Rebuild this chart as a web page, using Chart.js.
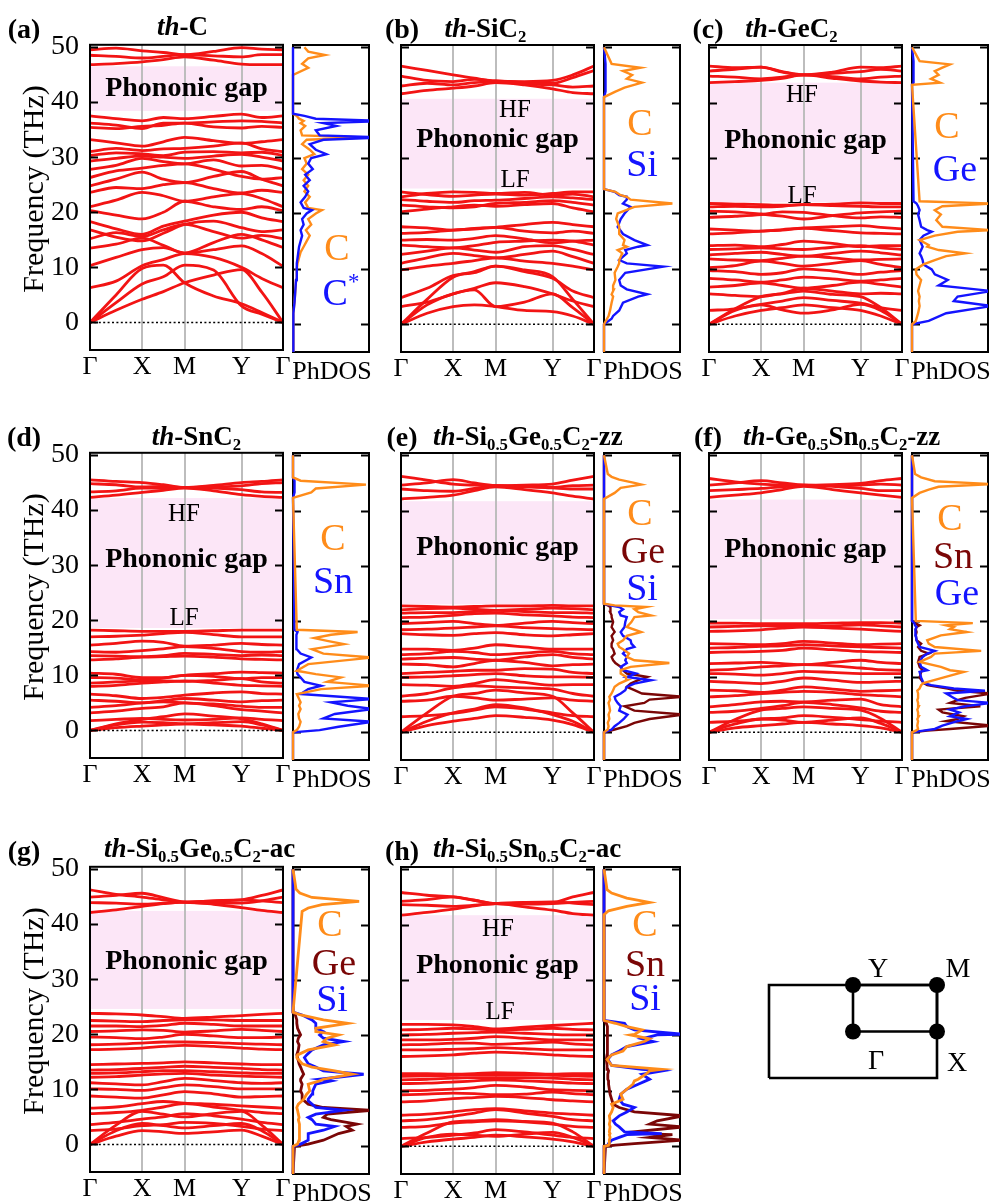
<!DOCTYPE html>
<html>
<head>
<meta charset="utf-8">
<script src="https://cdn.jsdelivr.net/npm/chart.js@4.4.0/dist/chart.umd.min.js"></script>
<style>
  body { margin: 0; background: #fff; }
  #fig { position: relative; width: 993px; height: 1202px; overflow: hidden; font-family: "Liberation Serif", "Times New Roman", serif; }
  canvas { position: absolute; }
  .t { position: absolute; white-space: nowrap; transform: translate(-50%, -50%); line-height: 1; color: #000; }
  .tl { position: absolute; white-space: nowrap; transform: translate(0, -50%); line-height: 1; color: #000; }
  .lab { font-weight: bold; font-size: 28px; }
  .ttl { font-weight: bold; font-size: 27px; }
  .gap { font-weight: bold; font-size: 28px; }
  .hf { font-size: 25px; }
  .sp { font-size: 38px; }
  .tick { font-size: 26px; }
  .bz { font-size: 28px; }
  .ylab { font-size: 30px; transform: translate(-50%, -50%) rotate(-90deg); }
  sub { font-size: 0.62em; vertical-align: -0.32em; line-height: 0; }
  sup { font-size: 0.6em; vertical-align: 0.7em; line-height: 0; }
</style>
</head>
<body>
<div id="fig"></div>
<script>
// ==================== 数据 ====================

// 高对称点路径 Γ-X-M-Y-Γ（归一化路径长度）
const K_SYM = [0, 0.27, 0.49, 0.785, 1];
const SYM_LABELS = ['Γ', 'X', 'M', 'Y', 'Γ'];
// 每条能带取值的 k 点（Γ, 中点, X, 中点, M, 中点, Y, 中点, Γ）
const K_PATH = [0, 0.135, 0.27, 0.38, 0.49, 0.64, 0.785, 0.89, 1];
const FREQ_TICKS = [0, 10, 20, 30, 40, 50];

// (a) th-C
const BANDS_A = [
  [0, 2.2, 4.2, 5.6, 7.2, 8.6, 9.6, 5.5, 0],
  [0, 5, 9.8, 10.4, 7.2, 4.8, 3.4, 1.8, 0],
  [0, 3.6, 7, 8.3, 10.4, 9.5, 3, 1.5, 0],
  [6.3, 7.5, 10.3, 11.4, 12.5, 11.8, 10, 8, 6.3],
  [10.3, 11.8, 13.2, 13.6, 12.6, 13.2, 13.9, 12.5, 10.2],
  [13.5, 14.2, 15.3, 14, 12.6, 14.5, 16, 15, 13.6],
  [15.2, 16.3, 15.6, 16.8, 17.8, 16.5, 15.3, 15.8, 15.2],
  [16.8, 15.5, 14.8, 16.2, 17.8, 18.4, 17.2, 16.5, 16.8],
  [18.3, 17, 16, 17.5, 18.4, 19.5, 20, 19, 18.3],
  [20.3, 19.5, 18.8, 20, 22, 21, 20.5, 21, 20.3],
  [21, 22.2, 23.6, 23, 22, 22.8, 23.4, 22.5, 21],
  [23.6, 24.5, 24.3, 25, 25.4, 24.3, 23.5, 24, 23.6],
  [24.8, 26, 27.3, 26, 25.4, 26.5, 27.4, 26, 24.8],
  [26.3, 27.5, 28, 28.5, 28.8, 27.8, 26.5, 26, 26.3],
  [27.8, 28.5, 29.8, 29.2, 28.8, 29.5, 28.4, 28.5, 27.8],
  [29.3, 29.8, 30.2, 30, 29.8, 30.2, 30.5, 30, 29.3],
  [30.3, 30.8, 30.6, 30.3, 30.9, 31, 30.8, 30.9, 30.3],
  [31, 31.6, 31.2, 31.5, 31.6, 32, 32.6, 31.5, 31],
  [33.2, 32.6, 32, 32.8, 33.6, 33, 32.5, 32.8, 33.2],
  [35.4, 35.2, 35.6, 35.8, 36.2, 35.5, 35.3, 35.6, 35.4],
  [36.2, 35.8, 35.2, 36.2, 36.2, 36.4, 36.6, 36.5, 36.2],
  [37.5, 37, 36.6, 37.2, 37, 37.4, 37.8, 37.2, 37.5],
  [46.8, 47, 47.3, 47.7, 48.2, 47.6, 46.9, 46.8, 46.8],
  [48.5, 48.3, 48, 48.3, 48.6, 48.4, 48.2, 48.6, 48.6],
  [49.5, 49.8, 49.3, 49, 48.6, 49.2, 49.9, 49.6, 49.5]
];
const GAP_A = [38.4, 46.5];

// (b) th-SiC2
const BANDS_B = [
  [0, 3.5, 5.5, 6.2, 3.2, 4, 5.5, 3, 0],
  [0, 2, 3.2, 3.5, 3.2, 2.5, 2.3, 1.5, 0],
  [0, 4.5, 8.5, 9.5, 10.5, 9.8, 8.6, 4.5, 0],
  [3.2, 4, 5.5, 6.5, 7.5, 6.8, 5.5, 4.2, 3.2],
  [4.8, 6.5, 8.8, 9.3, 10.5, 9.5, 8.3, 6, 4.8],
  [9.8, 10.5, 11, 11.5, 12, 11.4, 11, 10.5, 9.8],
  [11, 12, 12.8, 12.4, 12, 12.6, 13.2, 12.2, 11],
  [12.6, 13.2, 13.8, 13.4, 13, 14, 14.2, 13.5, 12.6],
  [14.3, 14, 13.8, 14.2, 14.8, 15, 15.2, 15, 14.3],
  [15.2, 15.3, 15.2, 15.5, 16, 15.4, 14.7, 15, 15.2],
  [16.4, 16.6, 17, 17.2, 17.5, 16.8, 16.5, 16.8, 16.4],
  [17.6, 17.4, 17, 17.3, 17.5, 18, 18.4, 18, 17.6],
  [20.3, 20.8, 21.2, 21.5, 21.3, 21.6, 21.8, 21, 20.3],
  [21.5, 21.2, 21, 21.2, 21.8, 22, 22.3, 22, 21.5],
  [22.5, 22.2, 22, 22.3, 22.4, 22.7, 23, 22.8, 22.5],
  [23.9, 23.4, 23.1, 23.3, 23.5, 23.3, 23.6, 23.9, 23.9],
  [23, 23.6, 23.9, 23.8, 23.6, 23.8, 23.3, 23.5, 23],
  [46.6, 45.8, 45, 44.4, 43.9, 43.8, 44, 45, 46.6],
  [44.8, 44, 43.8, 44.2, 43.9, 43.6, 43.5, 44.5, 45.8],
  [43, 43.5, 43.2, 43.6, 43.8, 43.4, 43.2, 42.8, 43],
  [41.6, 42.2, 42.6, 43, 43.6, 43.2, 42.5, 41.8, 41.6]
];
const GAP_B = [24.5, 40.7];

// (c) th-GeC2
const BANDS_C = [
  [0, 1.5, 2.5, 3, 3.5, 3, 2.5, 1.5, 0],
  [0, 2.5, 3.5, 2.6, 2, 2.6, 3.6, 2.5, 0],
  [0, 2.8, 5, 5.5, 6, 5.4, 5, 3, 0],
  [2.5, 2.8, 3.6, 4.2, 4.8, 4.3, 3.8, 3, 2.5],
  [5.5, 5.2, 5, 5.6, 6.5, 6, 5.5, 5.6, 5.5],
  [6.7, 7, 7.5, 7, 6.5, 7, 7.6, 7.2, 6.7],
  [8.3, 8, 7.6, 8, 8.5, 8.2, 7.8, 8, 8.3],
  [9.7, 9.5, 9, 9.3, 10, 9.6, 9, 9.4, 9.7],
  [10.2, 10.6, 11.4, 11, 10.5, 11, 11.5, 10.8, 10.2],
  [11.8, 11.6, 11.5, 11.9, 12.3, 12, 11.6, 11.7, 11.8],
  [12.5, 12.8, 13, 12.6, 12.3, 12.8, 13.2, 12.9, 12.5],
  [13.5, 13.6, 13.8, 13.6, 13.5, 13.9, 14.2, 13.8, 13.5],
  [14.2, 14.3, 14, 14.4, 15, 14.6, 14, 14.2, 14.2],
  [16.3, 16.5, 16.8, 17, 17.3, 16.9, 16.5, 16.4, 16.3],
  [17.2, 17, 16.8, 17.1, 17.4, 17.6, 17.8, 17.5, 17.2],
  [19.3, 19.5, 19.8, 20.3, 20.2, 19.6, 19.2, 19.4, 19.3],
  [20.4, 20.3, 19.9, 19.5, 19, 19.6, 20.1, 20.3, 20.4],
  [21.2, 21.3, 21.2, 21.3, 21.6, 21.4, 21.3, 21.2, 21.2],
  [21.8, 21.7, 21.6, 21.5, 21.6, 21.7, 21.9, 21.8, 21.8],
  [46.6, 46.3, 46.4, 45.5, 45, 45.5, 46.4, 46.3, 46.6],
  [45.7, 46, 46.4, 45.6, 45, 45.3, 45.6, 46, 45.7],
  [44.8, 44.6, 44.3, 44.6, 45, 44.7, 44.3, 44.6, 44.8],
  [43.6, 43.8, 44, 44.4, 45, 44.4, 43.9, 43.7, 43.6]
];
const GAP_C = [22.0, 43.6];

// (d) th-SnC2
const BANDS_D = [
  [0, 0.5, 0.8, 1, 1.2, 1, 0.8, 0.4, 0],
  [0, 1, 1.5, 1.4, 1.2, 1.4, 1.6, 1, 0],
  [0, 1.2, 2, 2.5, 3, 2.6, 2.1, 1.2, 0],
  [1.8, 2, 2.2, 2, 1.9, 2, 2.3, 2, 1.8],
  [3.2, 3.5, 4, 4.3, 5, 4.5, 3.8, 3.5, 3.2],
  [4.2, 4.5, 5, 5.2, 5, 4.8, 4.4, 4.2, 4.2],
  [5.5, 5.3, 5, 5.4, 5.8, 5.5, 5.2, 5.4, 5.5],
  [6.6, 6.3, 5.8, 6, 6.4, 6.8, 7, 6.7, 6.6],
  [8, 8.2, 8.6, 8.8, 9, 8.6, 8.2, 8.1, 8],
  [8.6, 8.8, 9, 9, 8.9, 9.1, 9.4, 8.8, 8.6],
  [9.6, 9.5, 9.2, 9.5, 10, 9.8, 9.4, 9.6, 9.6],
  [10.4, 10.2, 9.6, 9.6, 10, 10.3, 10.6, 10.5, 10.4],
  [12.8, 13, 13.3, 13.4, 13.5, 13.3, 13, 12.9, 12.8],
  [13.6, 13.5, 13.4, 13.6, 14, 13.8, 13.6, 13.7, 13.6],
  [14.3, 14.2, 14.5, 14.8, 15.2, 14.9, 14.3, 14.2, 14.3],
  [15.5, 15.8, 16.2, 16, 15.3, 15.5, 15.8, 15.6, 15.5],
  [17, 17.1, 17.3, 17.6, 17.8, 17.4, 17, 17, 17],
  [18.2, 18.1, 18, 18, 18, 18.1, 18.2, 18.2, 18.2],
  [45.5, 45.2, 45, 44.6, 44.1, 44.5, 45, 45.2, 45.5],
  [44.8, 44.6, 44.2, 44.3, 44.1, 44.2, 44.4, 44.8, 45],
  [43.3, 43.5, 44, 44, 44.1, 44, 43.7, 43.3, 43.2],
  [42.3, 42.7, 43.2, 43.6, 44, 43.5, 42.8, 42.5, 42.3]
];
const GAP_D = [18.6, 42.2];

// (e) th-Si0.5Ge0.5C2-zz
const BANDS_E = [
  [0, 2, 3.5, 4.2, 5, 4.4, 3.2, 2, 0],
  [0, 1.2, 2, 2.5, 3, 2.7, 2.2, 1.4, 0],
  [0, 3.5, 6.5, 7, 7.6, 7.1, 6.5, 3.5, 0],
  [2.8, 3, 3.4, 4, 4.6, 4.2, 3.5, 3, 2.8],
  [5.6, 5.8, 6.5, 6.2, 5.8, 6, 6.2, 5.8, 5.6],
  [6.5, 7, 8, 8.4, 8.2, 8, 7.8, 7, 6.5],
  [8.6, 8.5, 8.3, 8.8, 9.5, 9, 8.5, 8.6, 8.6],
  [9.9, 10, 10.2, 10.4, 10.6, 10.2, 10, 10, 9.9],
  [10.6, 10.8, 11, 11.2, 11.2, 11.5, 11.4, 10.8, 10.6],
  [12.3, 12.2, 11.8, 12.4, 13, 12.6, 12, 12.2, 12.3],
  [13.2, 13.4, 13.5, 13.2, 13, 13.6, 14, 13.5, 13.2],
  [14, 14.2, 14.6, 14.4, 14, 14.3, 14.6, 14.2, 14],
  [15, 15, 14.8, 15.2, 15.8, 15.4, 15, 15, 15],
  [17.8, 17.6, 17.5, 17.8, 18, 17.6, 17.4, 17.6, 17.8],
  [18.5, 18.6, 18.8, 19, 19.2, 18.9, 18.7, 18.6, 18.5],
  [19.6, 19.8, 20, 19.6, 19.3, 19.7, 20, 19.8, 19.6],
  [20.7, 20.8, 21.1, 21.4, 21.5, 21.2, 21, 20.8, 20.7],
  [21.5, 21.6, 21.6, 21.8, 22, 21.8, 21.6, 21.6, 21.5],
  [22.1, 22.3, 22.4, 22.2, 22, 22.2, 22.4, 22.3, 22.1],
  [22.8, 22.7, 22.6, 22.7, 22.8, 22.8, 22.9, 22.8, 22.8],
  [46.2, 45.5, 44.8, 44.6, 44.5, 44.6, 44.8, 45.5, 46.2],
  [44.6, 45, 45.6, 45, 44.5, 44.3, 44.2, 44.5, 44.6],
  [43.9, 43.6, 43.5, 44, 44.5, 44.4, 44.1, 43.9, 43.9],
  [42.1, 42.4, 42.8, 43.6, 44.3, 43.8, 43.2, 42.6, 42.1]
];
const GAP_E = [23.1, 41.7];

// (f) th-Ge0.5Sn0.5C2-zz
const BANDS_F = [
  [0, 0.8, 1.2, 1.5, 1.8, 1.5, 1.2, 0.8, 0],
  [0, 1.5, 2.4, 2.2, 1.8, 2.2, 2.6, 1.6, 0],
  [0, 2.3, 4, 4.3, 4.6, 4.3, 4, 2.5, 0],
  [1.8, 2, 2.4, 2.6, 3, 2.7, 2.3, 2, 1.8],
  [3.6, 3.8, 4.3, 4.8, 5.4, 5, 4.4, 3.8, 3.6],
  [4.6, 5, 5.5, 5.6, 5.5, 5.8, 6, 5, 4.6],
  [6.4, 6.6, 7, 7.2, 7.4, 7.2, 6.8, 6.6, 6.4],
  [7.6, 7.5, 7.2, 7.6, 8.2, 7.8, 7.4, 7.5, 7.6],
  [9.2, 9, 8.8, 9.2, 9.8, 9.4, 9, 9.1, 9.2],
  [10.6, 10.5, 10.3, 10.6, 11, 10.8, 10.6, 10.6, 10.6],
  [11.2, 11.4, 11.8, 12, 12.2, 12, 11.6, 11.3, 11.2],
  [12.4, 12.5, 12.6, 12.4, 12.2, 12.6, 13, 12.6, 12.4],
  [14.4, 14.5, 14.6, 14.8, 15.2, 14.9, 14.6, 14.5, 14.4],
  [15.2, 15.3, 15.5, 15.6, 15.8, 15.6, 15.4, 15.3, 15.2],
  [16, 15.9, 15.8, 16, 16.4, 16.1, 15.8, 15.9, 16],
  [18.2, 18.3, 18.5, 18.8, 19, 18.8, 18.6, 18.4, 18.2],
  [19, 19.1, 19.2, 19.2, 19.1, 19.2, 19.4, 19.2, 19],
  [19.7, 19.7, 19.6, 19.6, 19.6, 19.7, 19.8, 19.8, 19.7],
  [45.8, 45.2, 44.8, 44.6, 44.6, 44.7, 44.9, 45.4, 45.8],
  [44.6, 45, 45.4, 45, 44.6, 44.5, 44.6, 44.8, 44.6],
  [43.6, 43.8, 44, 44.3, 44.6, 44.4, 44, 43.6, 43.6],
  [42.4, 42.8, 43.2, 43.8, 44.4, 43.8, 43.2, 42.8, 42.4]
];
const GAP_F = [20.4, 42.0];

// (g) th-Si0.5Ge0.5C2-ac
const BANDS_G = [
  [0, 1.5, 2.5, 2.3, 2, 2.3, 2.6, 1.5, 0],
  [0, 2.5, 3.8, 3.4, 3, 3.4, 3.8, 2.5, 0],
  [0, 3.5, 6, 5.5, 5, 5.6, 6, 3.5, 0],
  [2.5, 2.8, 3.4, 3.6, 4, 3.8, 3.3, 2.8, 2.5],
  [3.6, 4, 4.6, 5, 5.6, 5.2, 4.6, 4, 3.6],
  [5.6, 5.8, 6.2, 6.8, 7.4, 6.8, 6.2, 5.8, 5.6],
  [6.6, 6.8, 7.4, 7.8, 7.5, 7.3, 7, 6.8, 6.6],
  [8.8, 8.6, 8.4, 9, 9.6, 9.2, 8.6, 8.7, 8.8],
  [10.1, 10, 9.8, 10.3, 10.8, 10.5, 10.1, 10.1, 10.1],
  [11.2, 11, 10.8, 11.4, 12, 11.6, 11.2, 11.1, 11.2],
  [12.2, 12.3, 12.6, 12.8, 12.9, 12.6, 12.4, 12.3, 12.2],
  [12.9, 13, 13.2, 13.4, 13.4, 13.2, 13, 12.9, 12.9],
  [13.5, 13.6, 13.8, 14, 14.2, 14, 13.8, 13.6, 13.5],
  [14.5, 14.6, 14.7, 14.8, 15, 14.8, 14.6, 14.5, 14.5],
  [17.2, 17.3, 17.5, 17.8, 18, 17.8, 17.5, 17.3, 17.2],
  [18.1, 18.2, 18.4, 18.6, 18.6, 18.5, 18.3, 18.2, 18.1],
  [19.5, 19.4, 19.2, 19.5, 20, 19.7, 19.4, 19.4, 19.5],
  [20.5, 20.6, 20.8, 20.7, 20.4, 20.6, 20.9, 20.7, 20.5],
  [21.5, 21.5, 21.4, 21.6, 22, 21.8, 21.5, 21.5, 21.5],
  [22.5, 22.4, 22.3, 22.5, 22.6, 22.6, 22.5, 22.5, 22.5],
  [23.8, 23.7, 23.5, 23.2, 22.9, 23.1, 23.4, 23.6, 23.8],
  [46.2, 45.4, 44.9, 44.4, 44, 44.2, 44.4, 45.2, 46.2],
  [44.9, 45.2, 45.6, 44.8, 44, 43.8, 43.8, 44.2, 44.9],
  [43.9, 43.8, 43.6, 43.8, 44, 44.2, 44.4, 44.2, 43.9],
  [42.1, 42.6, 43.2, 43.7, 44, 43.6, 43, 42.5, 42.1]
];
const GAP_G = [24.6, 42.4];

// (h) th-Si0.5Sn0.5C2-ac
const BANDS_H = [
  [0, 0.8, 1.3, 1.6, 2, 1.7, 1.3, 0.8, 0],
  [0, 1.6, 2.2, 2, 1.8, 2.2, 2.5, 1.6, 0],
  [0, 2.4, 4.4, 4.6, 4.8, 4.5, 4.2, 2.6, 0],
  [1.4, 1.6, 2, 2.4, 3, 2.6, 2, 1.6, 1.4],
  [3.4, 3.6, 4.2, 4.4, 4.6, 4.4, 4, 3.6, 3.4],
  [4.6, 4.8, 5.4, 6, 6.6, 6, 5.4, 4.8, 4.6],
  [5.6, 5.8, 6.2, 6.6, 6.8, 6.4, 6, 5.8, 5.6],
  [8, 8.2, 8.6, 8.8, 9, 8.8, 8.4, 8.2, 8],
  [9.3, 9.4, 9.6, 9.5, 9.3, 9.4, 9.8, 9.5, 9.3],
  [10, 10.1, 10.3, 10.6, 11, 10.7, 10.2, 10.1, 10],
  [11.3, 11.4, 11.6, 11.8, 12, 11.8, 11.6, 11.4, 11.3],
  [12, 12.1, 12.3, 12.4, 12.4, 12.4, 12.3, 12.1, 12],
  [12.6, 12.7, 12.8, 12.9, 12.9, 12.9, 12.8, 12.7, 12.6],
  [13.1, 13.1, 13, 13.1, 13.3, 13.2, 13, 13.1, 13.1],
  [16.2, 16.3, 16.5, 16.8, 17, 16.8, 16.5, 16.3, 16.2],
  [17.4, 17.4, 17.5, 17.6, 17.8, 17.6, 17.4, 17.4, 17.4],
  [18.3, 18.4, 18.6, 18.6, 18.4, 18.6, 18.8, 18.5, 18.3],
  [19.2, 19.2, 19.3, 19.5, 19.8, 19.5, 19.2, 19.2, 19.2],
  [20.1, 20.2, 20.4, 20.5, 20.6, 20.4, 20.2, 20.1, 20.1],
  [21, 21.1, 21.3, 21.2, 21, 21.1, 21.3, 21.1, 21],
  [22, 22, 21.9, 21.6, 21.2, 21.5, 21.8, 22, 22.2],
  [45.8, 45.3, 45, 44.4, 43.8, 43.9, 44, 45, 45.8],
  [44.2, 44.5, 45, 44.4, 43.8, 43.7, 43.8, 44, 44.2],
  [43.6, 43.5, 43.3, 43.5, 43.8, 44, 44.1, 43.9, 43.6],
  [41.7, 42.2, 42.8, 43.4, 43.8, 43.2, 42.6, 42, 41.7]
];
const GAP_H = [22.8, 41.7];

// ==================== PhDOS（频率网格 + 各元素强度，1 = 框右边缘） ====================

const DOS_F_A = [-5, 0, 2, 4, 6, 8, 10, 11, 12, 13, 14, 15, 16, 17, 18, 19, 20, 20.6, 21, 22, 23, 24, 25, 26, 27, 28, 29, 30, 30.7, 31.5, 32.5, 33.3, 33.7, 34.1, 35, 35.8, 36.3, 36.7, 37.1, 37.6, 38, 45, 46.3, 47, 48, 48.6, 49.2, 50];
const DOS_A_C = [0, 0, 0.01, 0.02, 0.03, 0.04, 0.05, 0.06, 0.08, 0.1, 0.14, 0.18, 0.22, 0.17, 0.24, 0.2, 0.3, 0.38, 0.2, 0.16, 0.22, 0.15, 0.2, 0.14, 0.2, 0.12, 0.18, 0.15, 0.28, 0.22, 0.12, 0.18, 0.95, 0.12, 0.1, 0.16, 0.1, 0.14, 0.08, 0.05, 0, 0, 0.2, 0.12, 0.2, 0.42, 0.2, 0.15];
const DOS_A_CS = [0, 0, 0.01, 0.02, 0.03, 0.04, 0.05, 0.05, 0.06, 0.07, 0.08, 0.1, 0.12, 0.1, 0.14, 0.12, 0.18, 0.25, 0.14, 0.1, 0.16, 0.2, 0.14, 0.22, 0.16, 0.26, 0.2, 0.24, 0.44, 0.3, 0.22, 0.4, 1.2, 0.35, 0.3, 0.57, 0.4, 1.2, 0.3, 0.15, 0, 0, 0, 0, 0, 0, 0, 0];

const DOS_F_B = [-5, 0, 1, 1.5, 2.5, 3.9, 5, 5.4, 6.3, 7, 8, 9.3, 10.4, 11, 11.6, 12.2, 12.8, 13.4, 14, 14.3, 15.2, 16.3, 17.6, 19, 20, 21.2, 21.8, 22.5, 23, 23.3, 23.9, 24.4, 41, 42, 42.7, 43.6, 44.3, 45, 45.7, 46.3, 47, 50];
const DOS_B_C = [0, 0, 0.04, 0.06, 0.08, 0.1, 0.12, 0.1, 0.13, 0.12, 0.15, 0.14, 0.18, 0.2, 0.2, 0.22, 0.24, 0.18, 0.3, 0.25, 0.27, 0.2, 0.2, 0.16, 0.18, 0.4, 0.9, 0.35, 0.3, 0.22, 0.15, 0, 0, 0.15, 0.27, 0.5, 0.3, 0.37, 0.25, 0.48, 0.1, 0];
const DOS_B_SI = [0, 0, 0.1, 0.12, 0.2, 0.25, 0.45, 0.57, 0.3, 0.22, 0.2, 0.28, 0.78, 0.3, 0.2, 0.25, 0.3, 0.28, 0.45, 0.57, 0.4, 0.25, 0.18, 0.22, 0.27, 0.35, 0.25, 0.3, 0.3, 0.2, 0.14, 0, 0, 0.02, 0.02, 0.02, 0.02, 0.02, 0.02, 0.02, 0.02, 0];

const DOS_F_C = [-5, 0, 0.6, 2, 3.3, 4.2, 5, 6, 7, 8, 9, 9.9, 10.8, 11.6, 12.3, 12.8, 13.4, 14, 14.3, 15.2, 16, 16.7, 17, 17.6, 18.8, 19.8, 20.6, 21.3, 21.8, 22.2, 43.2, 43.6, 44.3, 45, 45.7, 46.3, 46.9, 47.5, 50];
const DOS_C_C = [0, 0, 0.05, 0.08, 0.1, 0.09, 0.1, 0.08, 0.1, 0.12, 0.06, 0.05, 0.15, 0.3, 0.45, 0.7, 0.35, 0.2, 0.22, 0.1, 0.3, 0.6, 1.05, 0.4, 0.32, 0.38, 0.3, 0.4, 1.05, 0.1, 0, 0.37, 0.25, 0.35, 0.3, 0.4, 0.5, 0.1, 0];
const DOS_C_GE = [0, 0, 0.22, 0.45, 1.05, 0.55, 0.6, 1.05, 0.35, 0.47, 0.3, 0.26, 0.15, 0.14, 0.12, 0.1, 0.12, 0.14, 0.13, 0.1, 0.15, 0.26, 0.2, 0.12, 0.1, 0.08, 0.1, 0.08, 0.06, 0.02, 0, 0.02, 0.02, 0.02, 0.02, 0.02, 0.02, 0.02, 0];

const DOS_F_D = [-5, 0, 0.4, 1, 1.9, 2.5, 3.3, 4.2, 4.8, 5.4, 6, 6.9, 7.8, 8.4, 9.1, 9.9, 10.5, 11.1, 12.3, 13.5, 14.2, 15, 15.9, 16.5, 17, 17.6, 18.1, 18.5, 42.3, 43.3, 44, 44.7, 45.4, 46, 50];
const DOS_D_C = [0, 0, 0.05, 0.08, 0.1, 0.08, 0.07, 0.1, 0.08, 0.1, 0.08, 0.05, 0.37, 1.05, 0.45, 0.63, 0.3, 0.05, 0.2, 1.05, 0.4, 0.25, 0.67, 0.45, 0.28, 0.5, 0.85, 0.05, 0, 0.24, 0.3, 0.96, 0.1, 0, 0];
const DOS_D_SN = [0, 0, 0.35, 0.6, 1.05, 0.4, 0.55, 1.05, 0.72, 0.5, 1.05, 0.1, 0.2, 0.37, 0.15, 0.1, 0.06, 0.05, 0.08, 0.24, 0.1, 0.05, 0.04, 0.05, 0.04, 0.05, 0.06, 0.02, 0, 0.02, 0.02, 0.02, 0.02, 0, 0];

const DOS_F_E = [-5, 0, 0.5, 1.1, 1.7, 2.4, 3.2, 3.9, 4.7, 5.3, 5.9, 6.4, 7, 7.6, 8.2, 8.8, 9.4, 10, 10.6, 11.2, 11.8, 12.5, 13, 13.6, 14.2, 15, 15.4, 16, 16.6, 17.4, 18.1, 19, 19.9, 20.8, 21.1, 21.7, 22.2, 22.6, 22.9, 23.2, 42.1, 43.2, 44.1, 44.7, 45, 45.6, 46.1, 46.6, 50];
const DOS_E_C = [0, 0, 0.05, 0.06, 0.05, 0.07, 0.06, 0.08, 0.07, 0.06, 0.08, 0.07, 0.1, 0.12, 0.14, 0.2, 0.3, 0.29, 0.22, 0.22, 0.35, 0.86, 0.4, 0.3, 0.33, 0.25, 0.2, 0.18, 0.25, 0.3, 0.49, 0.3, 0.36, 0.4, 0.62, 0.45, 0.4, 0.55, 0.14, 0, 0, 0.14, 0.22, 0.49, 0.4, 0.2, 0.1, 0.05, 0];
const DOS_E_SI = [0, 0, 0.1, 0.14, 0.2, 0.26, 0.31, 0.2, 0.22, 0.18, 0.15, 0.14, 0.22, 0.28, 0.3, 0.4, 0.62, 0.3, 0.42, 0.25, 0.22, 0.3, 0.28, 0.3, 0.25, 0.3, 0.4, 0.36, 0.35, 0.25, 0.22, 0.27, 0.28, 0.3, 0.22, 0.2, 0.25, 0.2, 0.08, 0, 0, 0, 0, 0, 0, 0, 0, 0, 0];
const DOS_E_GE = [0, 0, 0.14, 0.3, 0.4, 0.6, 1.05, 0.4, 0.27, 0.53, 0.6, 1.05, 0.5, 0.4, 0.3, 0.35, 0.45, 0.57, 0.3, 0.25, 0.22, 0.15, 0.12, 0.1, 0.14, 0.12, 0.1, 0.1, 0.12, 0.1, 0.14, 0.1, 0.12, 0.1, 0.1, 0.08, 0.09, 0.08, 0.05, 0, 0, 0, 0, 0, 0, 0, 0, 0, 0];

const DOS_F_F = [-5, 0, 0.3, 0.6, 1.2, 2, 2.4, 2.9, 3.6, 4.1, 4.7, 5.3, 5.8, 6.2, 7, 7.5, 7.9, 8.5, 8.9, 9.9, 10.9, 11.2, 11.8, 12.7, 13.6, 14.2, 14.7, 15.4, 16, 16.6, 17.5, 18.1, 18.6, 19, 19.3, 19.7, 20.1, 42.3, 43.2, 43.8, 44.3, 44.8, 45.3, 46, 46.6, 50];
const DOS_F_C2 = [0, 0, 0.05, 0.08, 0.07, 0.08, 0.07, 0.09, 0.08, 0.07, 0.09, 0.08, 0.07, 0.08, 0.08, 0.07, 0.1, 0.12, 0.15, 0.42, 0.68, 0.5, 0.38, 0.1, 0.25, 0.3, 0.91, 0.3, 0.22, 0.2, 0.38, 0.72, 0.5, 0.55, 0.45, 0.8, 0.05, 0, 0.1, 0.22, 0.35, 1.05, 0.3, 0.12, 0.04, 0];
const DOS_F_SN = [0, 0, 0.2, 0.5, 1.05, 0.45, 0.6, 0.68, 0.4, 0.35, 0.9, 0.5, 0.6, 0.7, 1.05, 0.6, 0.47, 0.2, 0.15, 0.1, 0.12, 0.14, 0.1, 0.08, 0.1, 0.22, 0.12, 0.08, 0.12, 0.06, 0.05, 0.06, 0.05, 0.06, 0.1, 0.04, 0, 0, 0, 0, 0, 0, 0, 0, 0, 0];
const DOS_F_GE = [0, 0, 0.15, 0.3, 0.4, 0.6, 0.72, 0.5, 0.62, 0.5, 0.7, 1.05, 0.6, 0.55, 0.45, 0.96, 0.55, 0.25, 0.15, 0.12, 0.1, 0.2, 0.12, 0.1, 0.14, 0.2, 0.3, 0.1, 0.08, 0.06, 0.05, 0.04, 0.05, 0.06, 0.04, 0.03, 0, 0, 0, 0, 0, 0, 0, 0, 0, 0];

const DOS_F_G = [-5, 0, 0.4, 1.1, 2.3, 2.9, 3.6, 4, 4.8, 5.2, 5.8, 6.5, 7, 7.6, 8.2, 8.5, 9.4, 10, 11.2, 11.8, 12.1, 13, 13.6, 14.3, 14.9, 16, 16.5, 17.4, 18.3, 18.9, 19.5, 20.1, 20.7, 21.3, 22.2, 22.8, 23.7, 24.2, 42.4, 43, 43.6, 44.2, 44.9, 45.7, 46.4, 50];
const DOS_G_C = [0, 0, 0.06, 0.08, 0.09, 0.08, 0.09, 0.08, 0.07, 0.08, 0.07, 0.06, 0.05, 0.07, 0.12, 0.14, 0.18, 0.22, 0.2, 0.35, 0.4, 0.78, 0.55, 0.25, 0.12, 0.05, 0.06, 0.2, 0.55, 0.4, 0.45, 0.6, 0.3, 0.3, 0.72, 0.4, 0.1, 0, 0.12, 0.2, 0.38, 0.87, 0.25, 0.09, 0.04, 0];
const DOS_G_SI = [0, 0, 0.1, 0.2, 0.2, 0.4, 0.55, 0.3, 0.25, 0.2, 0.3, 0.67, 0.3, 0.25, 0.2, 0.2, 0.25, 0.26, 0.3, 0.5, 0.35, 0.93, 0.4, 0.3, 0.2, 0.15, 0.18, 0.25, 0.4, 0.67, 0.4, 0.35, 0.4, 0.3, 0.3, 0.25, 0.12, 0, 0, 0, 0, 0, 0, 0, 0, 0];
const DOS_G_GE = [0, 0.02, 0.2, 0.4, 0.6, 0.78, 0.7, 0.84, 0.5, 0.4, 0.45, 1.05, 0.4, 0.2, 0.15, 0.12, 0.12, 0.1, 0.12, 0.1, 0.1, 0.14, 0.12, 0.1, 0.08, 0.06, 0.05, 0.07, 0.08, 0.06, 0.07, 0.1, 0.08, 0.06, 0.05, 0.05, 0.03, 0, 0, 0, 0, 0, 0, 0, 0, 0];

const DOS_F_H = [-5, 0, 0.2, 0.5, 1.1, 1.6, 2.1, 2.3, 2.6, 3.5, 4, 4.6, 5.5, 6.2, 7, 7.6, 8.5, 9.4, 10.3, 11.2, 11.8, 12.1, 13, 13.6, 13.9, 14.6, 15.7, 16.5, 17.2, 18, 18.9, 19.4, 20.1, 20.2, 21, 21.6, 22.2, 22.7, 41.8, 42.5, 43.3, 44, 44.8, 45.7, 46.3, 50];
const DOS_H_C = [0, 0, 0.06, 0.07, 0.07, 0.08, 0.07, 0.08, 0.07, 0.08, 0.07, 0.08, 0.07, 0.1, 0.12, 0.1, 0.25, 0.22, 0.3, 0.38, 0.4, 0.45, 0.55, 0.6, 0.76, 0.1, 0.04, 0.1, 0.25, 0.3, 0.53, 0.6, 0.35, 0.4, 0.5, 0.3, 0.15, 0, 0, 0.06, 0.3, 0.6, 0.3, 0.1, 0.04, 0];
const DOS_H_SI = [0, 0, 0.05, 0.06, 0.1, 0.2, 0.3, 0.76, 0.27, 0.2, 0.15, 0.12, 0.2, 0.3, 0.4, 0.25, 0.2, 0.22, 0.3, 0.45, 0.55, 0.6, 0.5, 0.76, 0.5, 0.1, 0.05, 0.1, 0.2, 0.3, 0.65, 0.5, 0.7, 1.05, 0.4, 0.3, 0.27, 0, 0, 0, 0, 0, 0, 0, 0, 0];
const DOS_H_SN = [0, 0.02, 0.15, 0.4, 1.05, 0.6, 0.9, 0.5, 0.4, 1.05, 0.6, 0.7, 1.05, 0.4, 0.2, 0.12, 0.1, 0.08, 0.07, 0.06, 0.06, 0.05, 0.05, 0.06, 0.05, 0.04, 0.03, 0.04, 0.05, 0.04, 0.05, 0.05, 0.04, 0.04, 0.05, 0.04, 0.03, 0, 0, 0, 0, 0, 0, 0, 0, 0];

// 布里渊区示意图（Γ 在中心，单位为半个倒格矢）
const BZ_OUTER = [[-1, -1], [1, -1], [1, 1], [-1, 1], [-1, -1]];
const BZ_PATH = [[0, 0], [1, 0], [1, 1], [0, 1], [0, 0]];
const BZ_POINTS = [[0, 0], [1, 0], [1, 1], [0, 1]];

// ==================== 样式与布局 ====================

const SERIF = '"Liberation Serif", "Times New Roman", serif';
const RED = '#f21414';
const ORANGE = '#ff8c1a';
const BLUE = '#1414ff';
const MAROON = '#7a0606';
const PINK = '#fce6f7';
const GRID_GRAY = '#bdbdbd';

const COL_BAND = [90, 401, 709];
const COL_DOS = [293, 604, 912];
const ROW_TOP = [45, 453, 867];
const BAND_W = 193, DOS_W = 76, BOX_H = 307;
const F_MIN = -5, F_MAX = 50.4;
const HP = 14, TP = 18, XH = 36, YW = 48;

const PANELS = [
  { col: 0, row: 0, bands: BANDS_A, gap: GAP_A, freq: DOS_F_A, dos: [[DOS_A_CS, BLUE], [DOS_A_C, ORANGE]] },
  { col: 1, row: 0, bands: BANDS_B, gap: GAP_B, freq: DOS_F_B, dos: [[DOS_B_C, ORANGE], [DOS_B_SI, BLUE]] },
  { col: 2, row: 0, bands: BANDS_C, gap: GAP_C, freq: DOS_F_C, dos: [[DOS_C_C, ORANGE], [DOS_C_GE, BLUE]] },
  { col: 0, row: 1, bands: BANDS_D, gap: GAP_D, freq: DOS_F_D, dos: [[DOS_D_C, ORANGE], [DOS_D_SN, BLUE]] },
  { col: 1, row: 1, bands: BANDS_E, gap: GAP_E, freq: DOS_F_E, dos: [[DOS_E_C, ORANGE], [DOS_E_SI, BLUE], [DOS_E_GE, MAROON]] },
  { col: 2, row: 1, bands: BANDS_F, gap: GAP_F, freq: DOS_F_F, dos: [[DOS_F_C2, ORANGE], [DOS_F_GE, BLUE], [DOS_F_SN, MAROON]] },
  { col: 0, row: 2, bands: BANDS_G, gap: GAP_G, freq: DOS_F_G, dos: [[DOS_G_C, ORANGE], [DOS_G_SI, BLUE], [DOS_G_GE, MAROON]], wide: true },
  { col: 1, row: 2, bands: BANDS_H, gap: GAP_H, freq: DOS_F_H, dos: [[DOS_H_C, ORANGE], [DOS_H_SI, BLUE], [DOS_H_SN, MAROON]], wide: true }
];

Chart.defaults.font.family = SERIF;
const fig = document.getElementById('fig');

/** 画黑色边框和朝内的刻度 */
function drawFrame(chart) {
  const { ctx, chartArea: a, scales: { y } } = chart;
  ctx.save();
  ctx.strokeStyle = '#000';
  ctx.lineWidth = 2;
  ctx.strokeRect(a.left, a.top, a.right - a.left, a.bottom - a.top);
  ctx.beginPath();
  FREQ_TICKS.forEach(f => {
    const p = Math.round(y.getPixelForValue(f)) + 0.5;
    ctx.moveTo(a.left, p); ctx.lineTo(a.left + 8, p);
    ctx.moveTo(a.right, p); ctx.lineTo(a.right - 8, p);
  });
  ctx.stroke();
  ctx.restore();
}

const framePlugin = {
  id: 'frame',
  beforeDraw(chart, args, o) {
    if (!o.gap) return;
    const { ctx, chartArea: a, scales: { y } } = chart;
    const top = y.getPixelForValue(o.gap[1]);
    const bot = y.getPixelForValue(o.gap[0]);
    ctx.save();
    ctx.fillStyle = PINK;
    ctx.fillRect(a.left, top, a.right - a.left, bot - top);
    ctx.restore();
  },
  beforeDatasetsDraw(chart, args, o) { if (o.under) drawFrame(chart); },
  afterDatasetsDraw(chart, args, o) { if (!o.under) drawFrame(chart); }
};

/** 新建 canvas 并让 chartArea 对齐到 (boxL, boxT) */
function place(w, h, boxL, boxT, config) {
  const cv = document.createElement('canvas');
  cv.width = w; cv.height = h;
  cv.style.width = w + 'px'; cv.style.height = h + 'px';
  cv.style.left = '0px'; cv.style.top = '0px';
  fig.appendChild(cv);
  const chart = new Chart(cv, config);
  cv.style.left = (boxL - chart.chartArea.left) + 'px';
  cv.style.top = (boxT - chart.chartArea.top) + 'px';
  return chart;
}

const baseOpts = {
  responsive: false,
  animation: false,
  devicePixelRatio: 1,
  events: [],
  elements: { point: { radius: 0 } }
};

function bandChart(p) {
  const withY = p.col === 0;
  const yW = withY ? YW : 0;
  const datasets = [{
    data: [{ x: 0, y: 0 }, { x: 1, y: 0 }],
    showLine: true, borderColor: '#000', borderWidth: 1.6, borderDash: [2, 2.4]
  }].concat(p.bands.map(b => ({
    data: K_PATH.map((k, i) => ({ x: k, y: b[i] })),
    showLine: true, borderColor: RED, borderWidth: 2.8, cubicInterpolationMode: 'monotone'
  })));
  return place(BAND_W + 2 * HP + yW, BOX_H + TP + XH + 4, COL_BAND[p.col], ROW_TOP[p.row], {
    type: 'scatter',
    data: { datasets },
    options: Object.assign({}, baseOpts, {
      layout: { padding: { left: HP, right: HP, top: TP, bottom: 4 } },
      plugins: { legend: { display: false }, tooltip: { enabled: false }, frame: { gap: p.gap, under: false } },
      scales: {
        x: {
          type: 'linear', min: 0, max: 1,
          afterBuildTicks: s => { s.ticks = K_SYM.map(v => ({ value: v })); },
          afterFit: s => { s.height = XH; },
          ticks: { autoSkip: false, maxRotation: 0, padding: 2, color: '#000', font: { size: 26 }, callback: (v, i) => SYM_LABELS[i] },
          grid: { color: GRID_GRAY, lineWidth: 2, drawTicks: false },
          border: { display: false }
        },
        y: {
          display: withY, min: F_MIN, max: F_MAX,
          afterBuildTicks: s => { s.ticks = FREQ_TICKS.map(v => ({ value: v })); },
          afterFit: s => { s.width = yW; },
          ticks: { padding: 3, color: '#000', font: { size: 28 } },
          grid: { display: false },
          border: { display: false }
        }
      }
    }),
    plugins: [framePlugin]
  });
}

function dosChart(p) {
  const datasets = p.dos.map(([vals, color]) => ({
    data: p.freq.map((f, i) => ({ x: vals[i], y: f })),
    showLine: true, borderColor: color, borderWidth: p.wide ? 2.8 : 2.4,
    clip: { left: 3, top: 0, right: 0, bottom: 0 }
  }));
  return place(DOS_W + 8, BOX_H + 8, COL_DOS[p.col], ROW_TOP[p.row], {
    type: 'scatter',
    data: { datasets },
    options: Object.assign({}, baseOpts, {
      layout: { padding: 4 },
      plugins: { legend: { display: false }, tooltip: { enabled: false }, frame: { gap: null, under: true } },
      scales: {
        x: { display: false, min: 0, max: 1 },
        y: { display: false, min: F_MIN, max: F_MAX }
      }
    }),
    plugins: [framePlugin]
  });
}

PANELS.forEach(p => { bandChart(p); dosChart(p); });

// 布里渊区
place(168 + 28, 93 + 28, 769, 985, {
  type: 'scatter',
  data: {
    datasets: [
      { data: BZ_POINTS.map(([x, y]) => ({ x, y })), pointRadius: 8, pointBackgroundColor: '#000', pointBorderWidth: 0, clip: false },
      { data: BZ_PATH.map(([x, y]) => ({ x, y })), showLine: true, borderColor: '#000', borderWidth: 2.6, clip: false },
      { data: BZ_OUTER.map(([x, y]) => ({ x, y })), showLine: true, borderColor: '#000', borderWidth: 2.6, clip: false }
    ]
  },
  options: Object.assign({}, baseOpts, {
    layout: { padding: 14 },
    plugins: { legend: { display: false }, tooltip: { enabled: false } },
    scales: { x: { display: false, min: -1, max: 1 }, y: { display: false, min: -1, max: 1 } }
  })
});

// ==================== 文字 ====================

function text(html, x, y, cls, color, left) {
  const d = document.createElement('div');
  d.className = (left ? 'tl ' : 't ') + cls;
  d.innerHTML = html;
  d.style.left = x + 'px';
  d.style.top = y + 'px';
  if (color) d.style.color = color;
  fig.appendChild(d);
}

const BAND_CX = COL_BAND.map(l => l + BAND_W / 2);
const DOS_CX = COL_DOS.map(l => l + DOS_W / 2);

// 面板编号与标题
[['(a)', 0, 0], ['(b)', 1, 0], ['(c)', 2, 0], ['(d)', 0, 1], ['(e)', 1, 1], ['(f)', 2, 1], ['(g)', 0, 2], ['(h)', 1, 2]]
  .forEach(([s, c, r]) => text(s, [24, 402, 708][c], ROW_TOP[r] - 16, 'lab'));
text('<i>th</i>-C', BAND_CX[0] - 4, ROW_TOP[0] - 19, 'ttl');
text('<i>th</i>-SiC<sub>2</sub>', BAND_CX[1] - 12, ROW_TOP[0] - 17, 'ttl');
text('<i>th</i>-GeC<sub>2</sub>', BAND_CX[2] - 14, ROW_TOP[0] - 17, 'ttl');
text('<i>th</i>-SnC<sub>2</sub>', BAND_CX[0] + 10, ROW_TOP[1] - 17, 'ttl');
text('<i>th</i>-Si<sub>0.5</sub>Ge<sub>0.5</sub>C<sub>2</sub>-zz', 433, ROW_TOP[1] - 17, 'ttl', null, true);
text('<i>th</i>-Ge<sub>0.5</sub>Sn<sub>0.5</sub>C<sub>2</sub>-zz', 743, ROW_TOP[1] - 17, 'ttl', null, true);
text('<i>th</i>-Si<sub>0.5</sub>Ge<sub>0.5</sub>C<sub>2</sub>-ac', 104, ROW_TOP[2] - 19, 'ttl', null, true);
text('<i>th</i>-Si<sub>0.5</sub>Sn<sub>0.5</sub>C<sub>2</sub>-ac', 433, ROW_TOP[2] - 19, 'ttl', null, true);

// 纵轴标题
ROW_TOP.forEach(t => text('Frequency (THz)', 33, t + BOX_H / 2 - 10, 'ylab'));

// PhDOS 横轴标签
PANELS.forEach(p => text('PhDOS', DOS_CX[p.col] + 1, ROW_TOP[p.row] + BOX_H + 19, 'tick'));

// 声子带隙
[[0, 0, 87], [1, 0, 138], [2, 0, 139], [0, 1, 558], [1, 1, 546], [2, 1, 548], [0, 2, 960], [1, 2, 964]]
  .forEach(([c, r, y]) => text('Phononic gap', BAND_CX[c], y, 'gap'));
[[515, 108, 'HF'], [515, 178, 'LF'], [802, 93, 'HF'], [802, 194, 'LF'], [184, 512, 'HF'], [184, 616, 'LF'], [498, 927, 'HF'], [500, 1010, 'LF']]
  .forEach(([x, y, s]) => text(s, x, y, 'hf'));

// PhDOS 图例文字
[
  ['C', 337, 247, ORANGE], ['C<sup>*</sup>', 341, 292, BLUE],
  ['C', 640, 122, ORANGE], ['Si', 642, 163, BLUE],
  ['C', 947, 125, ORANGE], ['Ge', 955, 168, BLUE],
  ['C', 333, 537, ORANGE], ['Sn', 333, 580, BLUE],
  ['C', 640, 512, ORANGE], ['Ge', 643, 550, MAROON], ['Si', 642, 587, BLUE],
  ['C', 950, 517, ORANGE], ['Sn', 953, 555, MAROON], ['Ge', 957, 592, BLUE],
  ['C', 330, 923, ORANGE], ['Ge', 334, 962, MAROON], ['Si', 332, 998, BLUE],
  ['C', 645, 923, ORANGE], ['Sn', 645, 963, MAROON], ['Si', 645, 997, BLUE]
].forEach(([s, x, y, c]) => text(s, x, y, 'sp', c));

// 布里渊区标签
[['Y', 878, 968], ['M', 958, 968], ['Γ', 876, 1060], ['X', 957, 1062]]
  .forEach(([s, x, y]) => text(s, x, y, 'bz'));
</script>
</body>
</html>
